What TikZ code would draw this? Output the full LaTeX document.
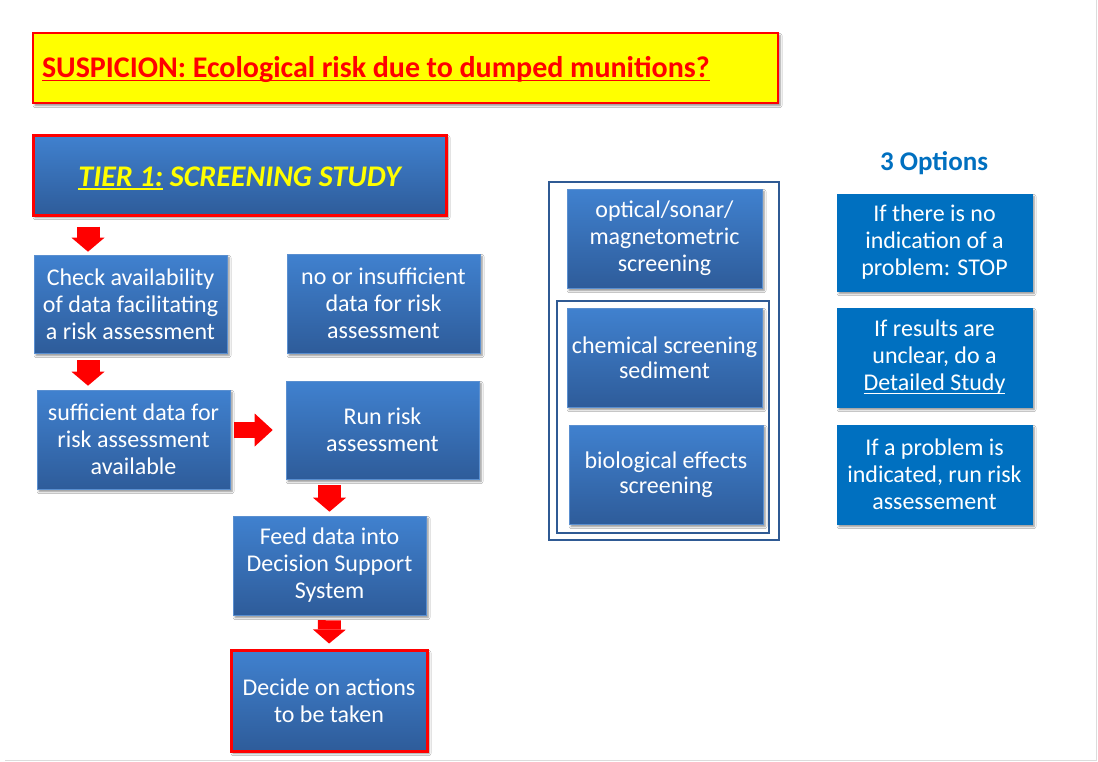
\documentclass[tikz,border=0pt]{standalone}
\usepackage{fontspec}
\setmainfont{Carlito}
\usetikzlibrary{arrows.meta,shadows.blur}
\newcommand\myuline[1]{\setbox0\hbox{#1}\rlap{\rule[-0.13em]{\wd0}{0.06em}}\box0\relax}
\definecolor{btop}{HTML}{4081CF}
\definecolor{bbot}{HTML}{2E5C9A}
\definecolor{bedge}{HTML}{5A8FD0}
\definecolor{optblue}{HTML}{0070C0}
\definecolor{framec}{HTML}{2F5A94}
\definecolor{pagegray}{HTML}{DCDCDC}
\definecolor{hiyellow}{HTML}{FFFF00}
\tikzset{
  shad/.style={blur shadow={shadow xshift=2pt, shadow yshift=-2.5pt, shadow blur steps=5, shadow blur radius=2pt, shadow opacity=45}},
  gbox/.style={rectangle, top color=btop, bottom color=bbot, draw=bedge, line width=0.6pt,
    text=white, align=center, inner sep=0pt, font=\fontsize{24}{27}\selectfont, shad},
  obox/.style={rectangle, fill=optblue, draw=optblue, text=white, align=center, inner sep=0pt,
    font=\fontsize{24}{27}\selectfont, shad},
  redframe/.style={draw=red, line width=3pt},
  frame/.style={draw=framec, line width=1.6pt},
  downarrow/.style={draw=red, line width=23pt, -{Triangle[width=33pt,length=14pt,line width=0pt]}},
  rightarrow/.style={draw=red, line width=16pt, -{Triangle[width=33pt,length=18pt,line width=0pt]}},
}
\begin{document}
\begin{tikzpicture}[x=1pt,y=-1pt]
\useasboundingbox (0,0) rectangle (1098,761);
\fill[white] (0,0) rectangle (1098,761);
\draw[pagegray, line width=1pt] (5,760) -- (1096,760) -- (1096,0);

% title
\node[rectangle, fill=hiyellow, draw=red, line width=2.2pt, minimum width=745pt, minimum height=70pt,
  text width=727pt, align=left, inner xsep=9pt, inner ysep=0pt, text=red,
  font=\fontsize{30}{32}\bfseries, shad] (susp) at (405.5,68)
  {\raisebox{-1.5pt}[\height][\depth]{\spaceskip=0.22em\myuline{SUSPICION: Ecological risk due to dumped munitions?}}};

% tier 1
\node[gbox, redframe, minimum width=413pt, minimum height=80pt, text=hiyellow,
  font=\fontsize{30}{32}\bfseries\itshape] (tier) at (239.5,175)
  {\raisebox{-3.5pt}[\height][\depth]{\myuline{TIER 1:} SCREENING STUDY}};

% left column
\node[gbox, minimum width=193pt, minimum height=98pt] (check) at (130.5,304)
  {Check availability\\of data facilitating\\a risk assessment};
\node[gbox, minimum width=193pt, minimum height=99pt] (noins) at (383.5,303.5)
  {no or insufficient\\data for risk\\assessment};
\node[gbox, minimum width=193pt, minimum height=99pt] (suff) at (133.5,439.5)
  {sufficient data for\\risk assessment\\available};
\node[gbox, minimum width=193pt, minimum height=98pt] (run) at (382.5,430)
  {Run risk\\assessment};
\node[gbox, minimum width=193pt, minimum height=99pt] (feed) at (329.5,565.5)
  {Feed data into\\Decision Support\\System};
\node[gbox, redframe, minimum width=196pt, minimum height=101pt] (decide) at (329,700.5)
  {Decide on actions\\to be taken};

% red arrows
\coordinate (ax) at (88,0);
\draw[downarrow, shorten <=10pt, shorten >=3pt] (tier.south -| ax) -- (check.north -| ax);
\draw[downarrow, shorten <=7pt, shorten >=4pt] (check.south -| ax) -- (suff.north -| ax);
\draw[rightarrow, shorten <=4pt, shorten >=13pt] (run.west -| suff.east) -- (run.west);
\draw[downarrow, shorten <=6pt, shorten >=4pt] (run.south -| feed.north) -- (feed.north);
\draw[downarrow, shorten <=5pt, shorten >=5pt] (feed.south) -- (decide.north);

% middle group
\draw[frame] (549,182) rectangle (779,540);
\draw[frame] (557,301) rectangle (769,533);
\node[gbox, minimum width=195pt, minimum height=99pt] (optical) at (664.5,238.5)
  {optical/sonar/\\magnetometric\\screening};
\node[gbox, minimum width=195pt, minimum height=99pt, font=\fontsize{24}{24.5}\selectfont] (chem) at (664.5,357.5)
  {chemical screening\\sediment};
\node[gbox, minimum width=194pt, minimum height=99pt, font=\fontsize{24}{24.5}\selectfont] (bio) at (666,474.5)
  {biological effects\\screening};

% options
\node[text=optblue, font=\fontsize{27}{30}\bfseries, inner sep=0pt] (opts) at (934,163) {3 Options};
\node[obox, minimum width=195pt, minimum height=97pt] (o1) at (934.5,242.5)
  {If there is no\\indication of a\\problem: STOP};
\node[obox, minimum width=195pt, minimum height=99pt] (o2) at (934.5,357.5)
  {If results are\\unclear, do a\\\myuline{Detailed Study}};
\node[obox, minimum width=195pt, minimum height=99pt] (o3) at (934.5,474.5)
  {If a problem is\\indicated, run risk\\assessement};
\end{tikzpicture}
\end{document}
